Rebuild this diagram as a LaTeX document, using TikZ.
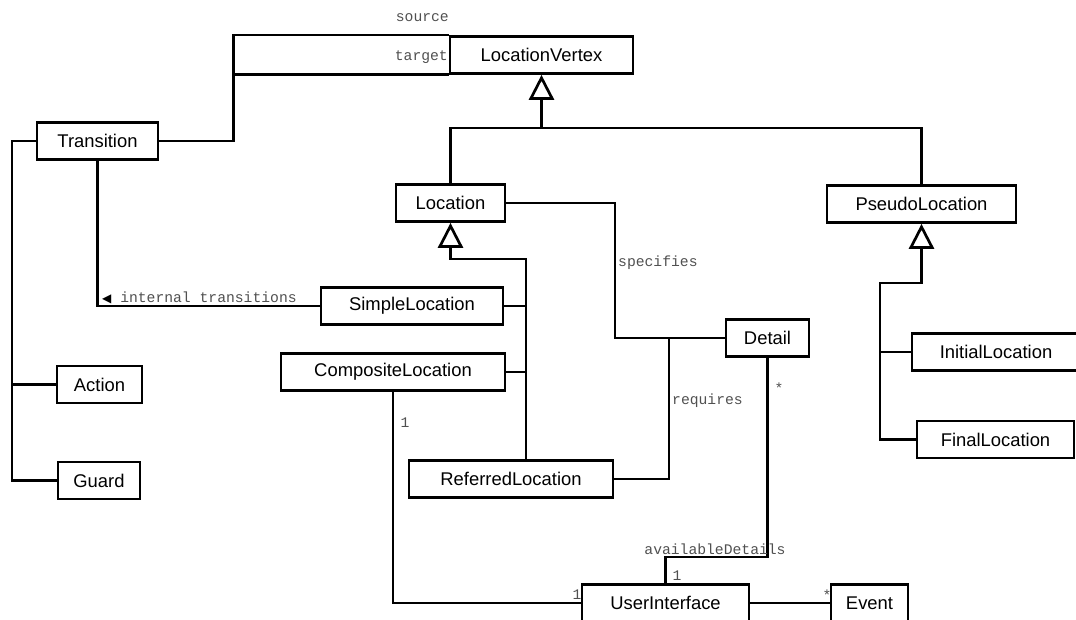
\documentclass[tikz,border=0pt]{standalone}
\usepackage{fontspec}
\setmainfont{Liberation Sans}
\newfontfamily\monolbl{Liberation Mono}
\newfontfamily\symfont{DejaVu Sans}
\usetikzlibrary{arrows.meta}
\definecolor{labelgray}{HTML}{505050}

\begin{document}
\begin{tikzpicture}[x=1pt,y=-1pt,
  cls/.style={draw, line width=2.7pt, fill=white, minimum height=37pt,
    inner sep=0pt, font=\fontsize{18.4}{21}\selectfont},
  link/.style={line width=2.7pt, line join=miter},
  gen/.style={link, -{Triangle[open, length=25pt, width=25pt]}},
  lbl/.style={text=labelgray, font=\monolbl\fontsize{14.7}{16}\selectfont, inner sep=0pt},
]
\useasboundingbox (0,0) rectangle (1076,620);

% classes
\node[cls, minimum width=183pt] (lv) at (541.5,55) {LocationVertex};
\node[cls, minimum width=121pt] (tr) at (97.5,141) {Transition};
\node[cls, minimum width=85pt] (act) at (99.5,384.5) {Action};
\node[cls, minimum width=82pt] (grd) at (99,480.5) {Guard};
\node[cls, minimum width=109pt] (loc) at (450.5,203) {Location};
\node[cls, minimum width=182pt] (simple) at (412,306) {SimpleLocation};
\node[cls, minimum width=224pt] (comp) at (393,372) {CompositeLocation};
\node[cls, minimum width=204pt] (ref) at (511,479) {ReferredLocation};
\node[cls, minimum width=189pt] (pseudo) at (921.5,204) {PseudoLocation};
\node[cls, minimum width=83pt] (det) at (767.5,338) {Detail};
\node[cls, minimum width=168pt] (init) at (996,352) {InitialLocation};
\node[cls, minimum width=157pt] (fin) at (995.5,439.5) {FinalLocation};
\node[cls, minimum width=167pt] (ui) at (665.5,603) {UserInterface};
\node[cls, minimum width=77pt] (ev) at (869.5,603) {Event};

% junction points
\path (lv.north west) ++(-215,0) coordinate (src);
\path (lv.south west) ++(-215,0) coordinate (tgt);
\coordinate (lvj) at (541.5,128);
\coordinate (lbus) at (526,259);
\coordinate (pbus) at (880,283);
\coordinate (tbus) at (12,141);
\coordinate (spec) at (615,338);
\coordinate (reqj) at (669,338);
\coordinate (av) at (665.5,557);

% Transition: source / target
\draw[link] (tr.east) -| (src) -- (lv.north west);
\draw[link] (tgt) -- (lv.south west);
\node[lbl, anchor=east] (lsrc) at (449,18) {source};
\node[lbl, anchor=east] (ltgt) at (448,57) {target};

% generalizations
\draw[gen] (loc.north) |- (lvj) -- (lv.south);
\draw[link] (pseudo.north) |- (lvj);
\draw[gen] (ref.north -| lbus) -- (lbus) -| (loc.south);
\draw[link] (simple.east) -- (simple.east -| lbus);
\draw[link] (comp.east) -- (comp.east -| lbus);
\draw[gen] (fin.west) -| (pbus) -| (pseudo.south);
\draw[link] (init.west) -- (init.west -| pbus);

% Transition parts
\draw[link] (tr.west) -- (tbus) |- (grd.west);
\draw[link] (act.west) -- (act.west -| tbus);
\draw[link] (tr.south) |- (simple.west);
\node[lbl, anchor=west] (lint) at (102,298)
  {{\color{black}\symfont\fontsize{12}{12}\selectfont ◀}~internal transitions};

% CompositeLocation -- UserInterface
\draw[link] (comp.south) |- (ui.west);
\node[lbl] (m1) at (405,423) {1};
\node[lbl] (m2) at (577,595) {1};

% specifies / requires
\draw[link] (loc.east) -| (spec) -- (det.west);
\draw[link] (ref.east) -| (reqj);
\node[lbl, anchor=west] (lspec) at (618,263) {specifies};
\node[lbl, anchor=west] (lreq) at (672,401) {requires};

% availableDetails
\draw[link] (det.south) |- (av) -- (ui.north);
\node[lbl] (lav) at (715,549) {availableDetails};
\node[lbl] (m3) at (779,388) {*};
\node[lbl] (m4) at (677,576) {1};

% UserInterface -- Event
\draw[link] (ui.east) -- (ev.west);
\node[lbl] (m5) at (827,595) {*};
\end{tikzpicture}
\end{document}
